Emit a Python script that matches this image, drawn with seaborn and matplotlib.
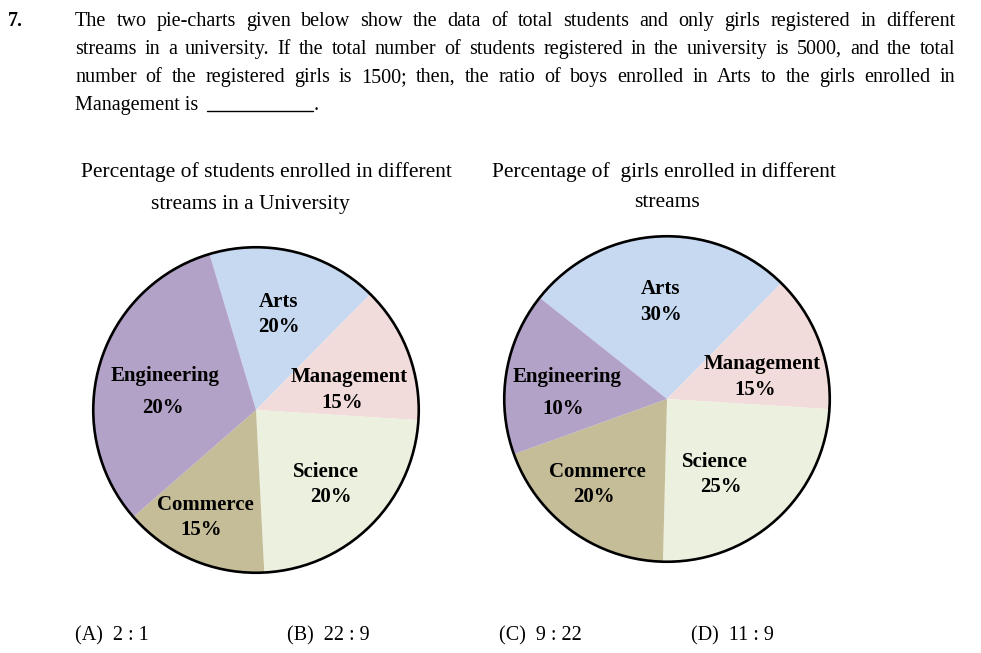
import matplotlib
matplotlib.use("Agg")
import matplotlib.pyplot as plt
from matplotlib.patches import Circle
import seaborn as sns

# ---------------- data ----------------
streams_left = ["Arts", "Management", "Science", "Commerce", "Engineering"]
label_pct_left = ["20%", "15%", "20%", "15%", "20%"]
# wedge shares as drawn in the picture (clockwise from Arts)
share_left = [17.0, 13.6, 23.2, 14.4, 31.8]

streams_right = ["Arts", "Management", "Science", "Commerce", "Engineering"]
label_pct_right = ["30%", "15%", "25%", "20%", "10%"]
share_right = [26.7, 13.6, 24.4, 19.1, 16.2]

stream_colors = {"Arts": "#c6d9f1", "Management": "#f2dcdb", "Science": "#ebf1de",
                 "Commerce": "#c4bd97", "Engineering": "#b3a2c7"}

title_left = ["Percentage of students enrolled in different", "streams in a University"]
title_right = ["Percentage of  girls enrolled in different", "streams"]

question_lines = [
    "The two pie-charts given below show the data of total students and only girls registered in different",
    "streams in a university. If the total number of students registered in the university is 5000, and the total",
    "number of the registered girls is 1500; then, the ratio of boys enrolled in Arts to the girls enrolled in",
]
question_last = "Management is"
options = ["(A)  2 : 1", "(B)  22 : 9", "(C)  9 : 22", "(D)  11 : 9"]

# ---------------- figure ----------------
sns.set_theme(style="white")
plt.rcParams["font.family"] = ["Liberation Serif", "DejaVu Serif"]
plt.rcParams["text.color"] = "black"
W, H = 981, 653
fig = plt.figure(figsize=(W / 100, H / 100), dpi=100)
fig.patch.set_facecolor("white")


def pie_axes(cx, cy, r):
    return fig.add_axes([(cx - r) / W, (H - cy - r) / H, 2 * r / W, 2 * r / H])


def draw_pie(ax, names, shares, start):
    pal = sns.color_palette([stream_colors[n] for n in names])
    ax.pie(shares, colors=pal, startangle=start, counterclock=False,
           wedgeprops=dict(linewidth=0), radius=1.0)
    ax.add_patch(Circle((0, 0), 1.0, fill=False, ec="black", lw=1.9, zorder=5))
    ax.set_xlim(-1.02, 1.02)
    ax.set_ylim(-1.02, 1.02)
    ax.set_aspect("equal")
    ax.axis("off")


axL = pie_axes(256, 410, 166)
draw_pie(axL, streams_left, share_left, 106.6)
axR = pie_axes(667, 399, 166)
draw_pie(axR, streams_right, share_right, 141.5)

# overlay axes in pixel coordinates for the text
ov = fig.add_axes([0, 0, 1, 1], zorder=10)
ov.set_xlim(0, W)
ov.set_ylim(H, 0)
ov.axis("off")
ov.patch.set_alpha(0)

QFS = 14.5
ov.text(8, 26, "7.", fontsize=QFS, fontweight="bold", ha="left", va="baseline")

renderer = fig.canvas.get_renderer()


def justified(line, x0, x1, y):
    words = line.split(" ")
    objs, widths = [], []
    for w in words:
        t = ov.text(0, y, w, fontsize=QFS, ha="left", va="baseline")
        widths.append(t.get_window_extent(renderer).width)
        objs.append(t)
    gap = (x1 - x0 - sum(widths)) / (len(words) - 1)
    x = x0
    for t, wd in zip(objs, widths):
        t.set_x(x)
        x += wd + gap


for i, line in enumerate(question_lines):
    justified(line, 75, 955, 26 + 28 * i)
ov.text(75, 110, question_last, fontsize=QFS, ha="left", va="baseline")
ov.plot([207, 313], [111, 111], color="black", lw=1.0)
ov.text(314, 110, ".", fontsize=QFS, ha="left", va="baseline")

# titles
TFS = 15.5
ov.text(266, 177, title_left[0], fontsize=TFS, ha="center", va="baseline")
ov.text(250, 209, title_left[1], fontsize=TFS, ha="center", va="baseline")
ov.text(664, 177, title_right[0], fontsize=TFS, ha="center", va="baseline")
ov.text(667, 207, title_right[1], fontsize=TFS, ha="center", va="baseline")

# slice labels (name position, pct position)
LFS = 15
pos_left = {"Arts": ((279, 302), (279, 327)),
            "Management": ((349, 377), (342, 403)),
            "Science": ((326, 472), (331, 497)),
            "Commerce": ((205, 505), (201, 530)),
            "Engineering": ((165, 376), (163, 408))}
pos_right = {"Arts": ((661, 289), (661, 315)),
             "Management": ((762, 364), (755, 390)),
             "Science": ((715, 462), (721, 487)),
             "Commerce": ((597, 472), (594, 497)),
             "Engineering": ((567, 377), (563, 409))}

for names, pcts, pos in [(streams_left, label_pct_left, pos_left),
                         (streams_right, label_pct_right, pos_right)]:
    for n, p in zip(names, pcts):
        (nx, ny), (px, py) = pos[n]
        ov.text(nx, ny, n, fontsize=LFS, fontweight="bold", ha="center", va="center")
        ov.text(px, py, p, fontsize=LFS, fontweight="bold", ha="center", va="center")

# answer options
for x, opt in zip([75, 287, 499, 691], options):
    ov.text(x, 640, opt, fontsize=QFS, ha="left", va="baseline")

fig.savefig("out.png", dpi=100, facecolor="white")
